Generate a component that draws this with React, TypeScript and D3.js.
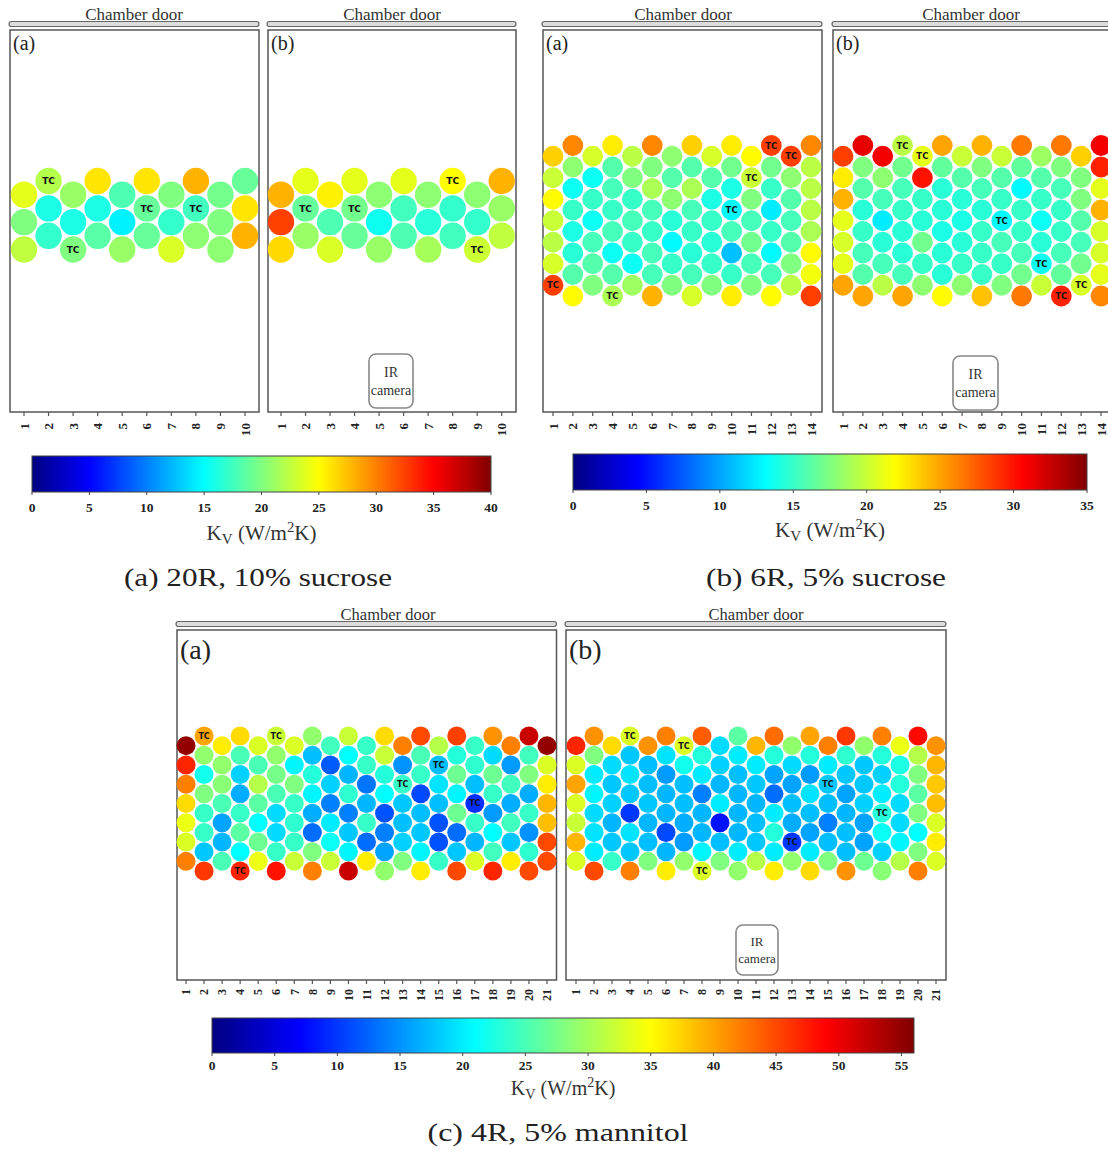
import React from "react"
import * as d3 from "d3"

// Kv values (W/m2K), one array per vial column (1..N), read top (door side) to bottom
// 20R, 10% sucrose
const kv20R_a = [
  [24, 20, 22.5], [22, 16, 17], [21, 16, 20], [26, 16, 18.5], [18, 14.5, 21],
  [26, 19, 19], [20, 17, 23.5], [28, 17.5, 20.5], [19.5, 20, 20.5], [19, 26, 28],
]
const kv20R_b = [
  [28, 32.5, 26.5], [24, 19, 21], [25.5, 18, 23.5], [24, 19.5, 19], [20.5, 15.5, 21],
  [24, 17.5, 18], [20.5, 16.5, 21.5], [25, 17, 17.5], [20.5, 17, 23], [28, 21, 22.5],
]
const tc20R_a = [[2, 0], [6, 2], [8, 2], [3, 5]]
const tc20R_b = [[8, 0], [2, 2], [4, 2], [9, 5]]

// 6R, 5% sucrose
const kv6R_a = [
  [23.5, 20, 22, 20, 19.5, 20.5, 28.5],
  [26, 18, 13.5, 15, 14, 14.5, 16, 22],
  [20.5, 13.5, 15, 13.5, 15.5, 16, 17.5],
  [22.5, 16, 15.5, 15, 15.5, 13.5, 16, 19],
  [19.5, 17.5, 15, 15.5, 15, 13.5, 18.5],
  [26, 17.5, 19, 15.5, 15, 15.5, 15.5, 24.5],
  [18, 16, 18, 14.5, 13, 15, 17.5],
  [23.5, 16, 19, 15.5, 15, 14.5, 15.5, 20.5],
  [20.5, 16, 14, 15, 14.5, 15, 17.5],
  [22.5, 17, 14, 13, 15.5, 11, 15, 22.5],
  [22, 20, 17.5, 15.5, 17, 15.5, 17.5],
  [28.5, 17, 15, 12.5, 15, 13, 15.5, 22],
  [28.5, 18, 16, 15.5, 16, 17.5, 19.5],
  [26, 19.5, 19.5, 19.5, 19, 22, 21.5, 28.5],
]
const kv6R_b = [
  [28.5, 22.5, 24.5, 21, 20.5, 21, 25],
  [31.5, 17.5, 16, 14.5, 15, 15.5, 16, 25],
  [31, 18, 15.5, 12.5, 14.5, 15.5, 19.5],
  [19.5, 17, 15.5, 15, 14.5, 14.5, 15.5, 25],
  [21, 30, 15, 14.5, 17, 15, 18],
  [25, 16.5, 14.5, 14.5, 14, 14.5, 14.5, 22],
  [20, 16, 14.5, 14, 14.5, 15, 18],
  [24.5, 17.5, 15.5, 14.5, 15, 15, 15, 24],
  [20, 16, 15, 13, 15.5, 15, 17.5],
  [26.5, 16.5, 13, 15, 15, 15.5, 17, 26.5],
  [18.5, 16, 15, 13.5, 14.5, 13.5, 20],
  [26.5, 17.5, 15.5, 15, 15, 15.5, 16.5, 29.5],
  [23.5, 17.5, 17.5, 16, 15.5, 17, 20.5],
  [31, 29.5, 21, 24.5, 20.5, 20.5, 21, 26],
]
const tc6R_a = [[12, 0], [13, 1], [11, 3], [10, 6], [1, 13], [4, 14]]
const tc6R_b = [[4, 0], [5, 1], [9, 7], [11, 11], [13, 13], [12, 14]]

// 4R, 5% mannitol
const kv4R_a = [
  [55, 47, 42, 37, 34, 33, 42],
  [40, 29, 22, 28, 24, 24, 18, 46],
  [36, 29, 28.5, 25, 16, 17, 25],
  [37, 25, 18.5, 16.5, 24, 26, 21, 47],
  [33, 25, 31, 26, 21, 27, 34],
  [32, 29, 27.5, 25, 19, 19, 24, 48],
  [33, 20.5, 28, 24, 23.5, 24, 32],
  [29, 17.5, 23, 20.5, 16.5, 13, 28, 42],
  [24.5, 12, 18.5, 14, 20, 21.5, 32],
  [32, 21, 17, 23.5, 14, 18, 20.5, 52],
  [24, 24, 13.5, 17, 24, 13, 36],
  [37, 32, 23, 21, 11.5, 14, 16, 29],
  [42, 15, 24, 18, 17.5, 18.5, 28],
  [45, 25, 24, 11, 17.5, 18, 20.5, 36],
  [31, 17.5, 19.5, 17.5, 11.5, 11.5, 24],
  [45.5, 23, 27, 20.5, 27, 13, 18, 45],
  [24, 23.5, 17.5, 9.5, 24, 17, 33],
  [41, 19, 27, 24, 15.5, 21, 24.5, 47],
  [42, 15.5, 24.5, 16.5, 24.5, 18, 36],
  [52, 24.5, 28, 16.5, 24, 15, 23.5, 45],
  [55, 33, 36, 39, 38.5, 45, 45],
]
const kv4R_b = [
  [47, 33, 40, 33, 32, 39, 33],
  [41, 28, 20, 20.5, 19, 19.5, 20, 45],
  [37, 19, 18, 18.5, 17, 18, 24],
  [33, 18, 19.5, 18, 10, 19.5, 18, 42],
  [41, 17.5, 17.5, 18, 17, 17.5, 28],
  [42, 19.5, 15.5, 17, 17, 11, 17, 36],
  [33, 22, 17.5, 17.5, 16.5, 15.5, 29],
  [44, 23, 20, 14, 17, 17, 20.5, 33],
  [19, 18.5, 17, 20, 8, 17.5, 28],
  [26, 20, 17.5, 17, 17, 17, 20, 29],
  [39, 20, 18, 17, 17.5, 18, 31],
  [43, 23, 16, 13, 20, 23, 20, 36],
  [29, 19, 16, 17.5, 16.5, 10, 29],
  [40, 23, 15.5, 19.5, 17.5, 16, 20, 37],
  [42, 20, 18, 17.5, 14, 17.5, 28],
  [46, 23.5, 18, 16, 17, 17.5, 17.5, 41],
  [29, 18, 18, 18.5, 16, 16, 27],
  [42, 23, 18.5, 20, 23, 21.5, 18.5, 28.5],
  [34, 22.5, 23, 19, 19, 20.5, 31],
  [48.5, 31, 28, 26, 28, 21, 28, 42],
  [41, 39, 38, 38.5, 33, 36, 33],
]
const tc4R_a = [[2, 0], [6, 0], [4, 14], [13, 5], [15, 3], [17, 7]]
const tc4R_b = [[4, 0], [7, 1], [8, 14], [13, 11], [15, 5], [18, 8]]

const captions = ["(a) 20R, 10% sucrose", "(b) 6R, 5% sucrose", "(c) 4R, 5% mannitol"]
const kvMax = [40, 35, 56]

const SERIF = "'Liberation Serif', 'Times New Roman', serif"

// matlab-like jet
const jet = d3
  .scaleLinear<string>()
  .domain([0, 0.125, 0.375, 0.625, 0.875, 1])
  .range(["#000080", "#0000ff", "#00ffff", "#ffff00", "#ff0000", "#800000"])
  .clamp(true)

type Geom = {
  fx: [number, number]
  fy: [number, number]
  cols: [number, number]
  rows: [number, number]
  r: number
  tcSize: number
  tickLabelY: number
  tickLabelSize: number
  labelSize: number
  doorX: number
  doorSize: number
  camera?: { x: number; y: number; w: number; h: number; fs: number }
}

function Panel({ values, tc, max, label, g }: { values: number[][]; tc: number[][]; max: number; label: string; g: Geom }) {
  const n = values.length
  const x = d3.scaleLinear().domain([1, n]).range(g.cols)
  const maxRow = d3.max(values, (col, i) => 2 * (col.length - 1) + ((i + 1) % 2))!
  const y = d3.scaleLinear().domain([0, maxRow]).range(g.rows)
  const vials = values.flatMap((col, ci) =>
    col.map((v, i) => {
      const k = ci + 1
      const row = 2 * i + (k % 2)
      return { k, row, v, tc: tc.some(([c, r]) => c === k && r === row) }
    })
  )
  const [x0, x1] = g.fx
  const [y0, y1] = g.fy
  return (
    <g>
      <text x={g.doorX} y={y0 - 10} textAnchor="middle" fontFamily={SERIF} fontSize={g.doorSize} fill="#333">
        Chamber door
      </text>
      <rect x={x0 - 1} y={y0 - 8.5} width={x1 - x0 + 1} height={5} rx={2.5} fill="#dcdcdc" stroke="#666" strokeWidth={1.2} />
      <rect x={x0} y={y0} width={x1 - x0} height={y1 - y0} fill="white" stroke="#555" strokeWidth={1.5} />
      <text x={x0 + 3} y={y0 + g.labelSize * 1.02} fontFamily={SERIF} fontSize={g.labelSize} fill="#222">
        {label}
      </text>
      {vials.map((d, i) => (
        <circle key={i} cx={x(d.k)} cy={y(d.row)} r={g.r} fill={jet(d.v / max)} />
      ))}
      {vials
        .filter(d => d.tc)
        .map((d, i) => (
          <text
            key={"tc" + i}
            x={x(d.k)}
            y={y(d.row) + g.tcSize * 0.36}
            textAnchor="middle"
            fontFamily="'DejaVu Sans', sans-serif"
            fontWeight="bold"
            fontSize={g.tcSize}
            fill="#111"
          >
            TC
          </text>
        ))}
      {d3.range(1, n + 1).map(k => (
        <g key={"t" + k}>
          <line x1={x(k)} x2={x(k)} y1={y1} y2={y1 + 4} stroke="#555" strokeWidth={1.2} />
          <text
            transform={`translate(${x(k) + g.tickLabelSize * 0.35},${g.tickLabelY}) rotate(-90)`}
            textAnchor="end"
            fontFamily={SERIF}
            fontWeight="bold"
            fontSize={g.tickLabelSize}
            fill="#222"
          >
            {k}
          </text>
        </g>
      ))}
      {g.camera && (
        <g>
          <rect
            x={g.camera.x}
            y={g.camera.y}
            width={g.camera.w}
            height={g.camera.h}
            rx={7}
            fill="white"
            stroke="#888"
            strokeWidth={1.6}
          />
          <text x={g.camera.x + g.camera.w / 2} y={g.camera.y + g.camera.h * 0.42} textAnchor="middle" fontFamily={SERIF} fontSize={g.camera.fs} fill="#333">
            IR
          </text>
          <text x={g.camera.x + g.camera.w / 2} y={g.camera.y + g.camera.h * 0.76} textAnchor="middle" fontFamily={SERIF} fontSize={g.camera.fs} fill="#333">
            camera
          </text>
        </g>
      )}
    </g>
  )
}

function ColorBar({ id, max, x0, x1, y0, y1, tickY, kvY, kvSize }: { id: string; max: number; x0: number; x1: number; y0: number; y1: number; tickY: number; kvY: number; kvSize: number }) {
  const x = d3.scaleLinear().domain([0, max]).range([x0, x1])
  const stops = d3.range(0, 1.0001, 0.025)
  const ticks = d3.range(0, max + 0.01, 5)
  return (
    <g>
      <defs>
        <linearGradient id={id} x1="0" x2="1" y1="0" y2="0">
          {stops.map(t => (
            <stop key={t} offset={t} stopColor={jet(t)} />
          ))}
        </linearGradient>
      </defs>
      <rect x={x0} y={y0} width={x1 - x0} height={y1 - y0} fill={`url(#${id})`} stroke="#444" strokeWidth={1} />
      {ticks.map(t => (
        <g key={t}>
          <line x1={x(t)} x2={x(t)} y1={y1} y2={y1 + 3} stroke="#444" />
          <text x={x(t)} y={tickY} textAnchor="middle" fontFamily={SERIF} fontWeight="bold" fontSize={13.5} fill="#222">
            {t}
          </text>
        </g>
      ))}
      <text x={(x0 + x1) / 2} y={kvY} textAnchor="middle" fontFamily={SERIF} fontSize={kvSize} fill="#333">
        K
        <tspan fontSize={kvSize * 0.72} dy={kvSize * 0.18}>
          V
        </tspan>
        <tspan dy={-kvSize * 0.18}> (W/m</tspan>
        <tspan fontSize={kvSize * 0.7} dy={-kvSize * 0.38}>
          2
        </tspan>
        <tspan dy={kvSize * 0.38}>K)</tspan>
      </text>
    </g>
  )
}

const geoA = (fx: [number, number], cols: [number, number], doorX: number, camera?: Geom["camera"]): Geom => ({
  fx, fy: [30, 412], cols, rows: [181, 249.5], r: 13.2, tcSize: 9, tickLabelY: 423, tickLabelSize: 13,
  labelSize: 20, doorX, doorSize: 17, camera,
})
const geoB = (fx: [number, number], cols: [number, number], doorX: number, camera?: Geom["camera"]): Geom => ({
  fx, fy: [30, 412], cols, rows: [145.5, 296], r: 10.4, tcSize: 8.5, tickLabelY: 423, tickLabelSize: 13,
  labelSize: 20, doorX, doorSize: 17, camera,
})
const geoC = (fx: [number, number], cols: [number, number], doorX: number, camera?: Geom["camera"]): Geom => ({
  fx, fy: [630, 980], cols, rows: [736, 871], r: 9.5, tcSize: 8, tickLabelY: 989, tickLabelSize: 12,
  labelSize: 28, doorX, doorSize: 16.5, camera,
})

export default function App() {
  return (
    <svg width={1108} height={1150} style={{ position: "absolute", left: 0, top: 0, background: "white" }}>
      {/* 20R */}
      <Panel values={kv20R_a} tc={tc20R_a} max={kvMax[0]} label="(a)" g={geoA([10, 259], [24, 245], 134)} />
      <Panel values={kv20R_b} tc={tc20R_b} max={kvMax[0]} label="(b)" g={geoA([268, 516], [281, 501.7], 392, { x: 369, y: 354, w: 44, h: 54, fs: 14 })} />
      <ColorBar id="cbA" max={kvMax[0]} x0={32} x1={491} y0={456} y1={492} tickY={512} kvY={540} kvSize={21} />
      <text x={258} y={586} textAnchor="middle" fontFamily={SERIF} fontSize={26} textLength={268} lengthAdjust="spacingAndGlyphs" fill="#222">
        {captions[0]}
      </text>

      {/* 6R */}
      <Panel values={kv6R_a} tc={tc6R_a} max={kvMax[1]} label="(a)" g={geoB([543, 822], [553, 811], 683)} />
      <Panel values={kv6R_b} tc={tc6R_b} max={kvMax[1]} label="(b)" g={geoB([833, 1112], [843, 1101], 971, { x: 953, y: 356, w: 45, h: 54, fs: 14 })} />
      <ColorBar id="cbB" max={kvMax[1]} x0={573} x1={1087} y0={454} y1={490} tickY={510} kvY={537} kvSize={21} />
      <text x={826} y={586} textAnchor="middle" fontFamily={SERIF} fontSize={26} textLength={240} lengthAdjust="spacingAndGlyphs" fill="#222">
        {captions[1]}
      </text>

      {/* 4R */}
      <Panel values={kv4R_a} tc={tc4R_a} max={kvMax[2]} label="(a)" g={geoC([177, 556.5], [186, 547], 388)} />
      <Panel values={kv4R_b} tc={tc4R_b} max={kvMax[2]} label="(b)" g={geoC([566, 946], [576, 936], 756, { x: 736, y: 925, w: 42, h: 50, fs: 13 })} />
      <ColorBar id="cbC" max={kvMax[2]} x0={212} x1={914} y0={1018} y1={1053} tickY={1070} kvY={1095} kvSize={20} />
      <text x={558} y={1141} textAnchor="middle" fontFamily={SERIF} fontSize={26} textLength={261} lengthAdjust="spacingAndGlyphs" fill="#222">
        {captions[2]}
      </text>
    </svg>
  )
}
